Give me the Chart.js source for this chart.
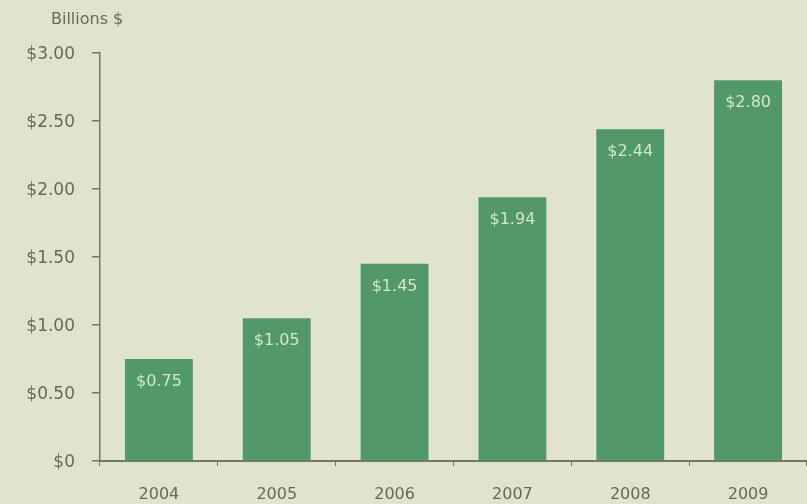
<!DOCTYPE html>
<html>
<head>
<meta charset="utf-8">
<script src="https://cdn.jsdelivr.net/npm/chart.js@4"></script>
<style>
  html, body { margin: 0; padding: 0; background: #e1e4cd; }
  #wrap { width: 807px; height: 504px; position: relative; }
</style>
</head>
<body>
<div id="wrap"><canvas id="c" width="807" height="504"></canvas></div>
<script>
// Revenue by year, in billions of dollars
const years = ['2004', '2005', '2006', '2007', '2008', '2009'];
const revenue = [0.75, 1.05, 1.45, 1.94, 2.44, 2.80];
const yTicks = [0, 0.5, 1.0, 1.5, 2.0, 2.5, 3.0];

const textColor = '#666a57';
const axisColor = '#737765';
const barColor = '#52996a';
const fontFamily = '"DejaVu Sans", "Open Sans", sans-serif';

function money(v) {
  return v === 0 ? '$0' : '$' + v.toFixed(2);
}

// Value labels drawn inside the top of each bar
const valueLabels = {
  id: 'valueLabels',
  afterDatasetsDraw(chart) {
    const ctx = chart.ctx;
    const meta = chart.getDatasetMeta(0);
    ctx.save();
    ctx.font = '16px ' + fontFamily;
    ctx.fillStyle = '#d6e6c8';
    ctx.textAlign = 'center';
    ctx.textBaseline = 'middle';
    meta.data.forEach((bar, i) => {
      ctx.fillText(money(revenue[i]), bar.x, bar.y + 23);
    });
    ctx.restore();
  }
};

// Unit caption above the value axis
const unitCaption = {
  id: 'unitCaption',
  afterDraw(chart) {
    const ctx = chart.ctx;
    ctx.save();
    ctx.font = '16px ' + fontFamily;
    ctx.fillStyle = textColor;
    ctx.textAlign = 'left';
    ctx.textBaseline = 'middle';
    ctx.fillText('Billions $', 51, 20);
    ctx.restore();
  }
};

new Chart(document.getElementById('c'), {
  type: 'bar',
  data: {
    labels: years,
    datasets: [{
      data: revenue,
      backgroundColor: barColor,
      borderWidth: 0,
      barPercentage: 0.576,
      categoryPercentage: 1.0
    }]
  },
  options: {
    responsive: false,
    animation: false,
    devicePixelRatio: 1,
    layout: { padding: { top: 53, right: 0, bottom: 0, left: 0 } },
    plugins: { legend: { display: false }, tooltip: { enabled: false } },
    scales: {
      x: {
        offset: true,
        grid: {
          offset: true,
          drawOnChartArea: false,
          drawTicks: true,
          tickLength: 5,
          color: axisColor,
          lineWidth: 1
        },
        border: { display: true, color: axisColor, width: 2 },
        ticks: {
          color: textColor,
          font: { family: fontFamily, size: 16 },
          padding: 19
        },
        afterFit(scale) { scale.height = 43; }
      },
      y: {
        min: 0,
        max: 3,
        afterBuildTicks(scale) {
          scale.ticks = yTicks.map(v => ({ value: v }));
        },
        grid: {
          drawOnChartArea: false,
          drawTicks: true,
          tickLength: 8,
          color: axisColor,
          lineWidth: 1.5
        },
        border: { display: true, color: axisColor, width: 1.5 },
        ticks: {
          color: textColor,
          font: { family: fontFamily, size: 17 },
          padding: 17,
          labelOffset: 2,
          callback: (v) => money(v)
        },
        afterFit(scale) { scale.width = 100; }
      }
    }
  },
  plugins: [valueLabels, unitCaption]
});
</script>
</body>
</html>
